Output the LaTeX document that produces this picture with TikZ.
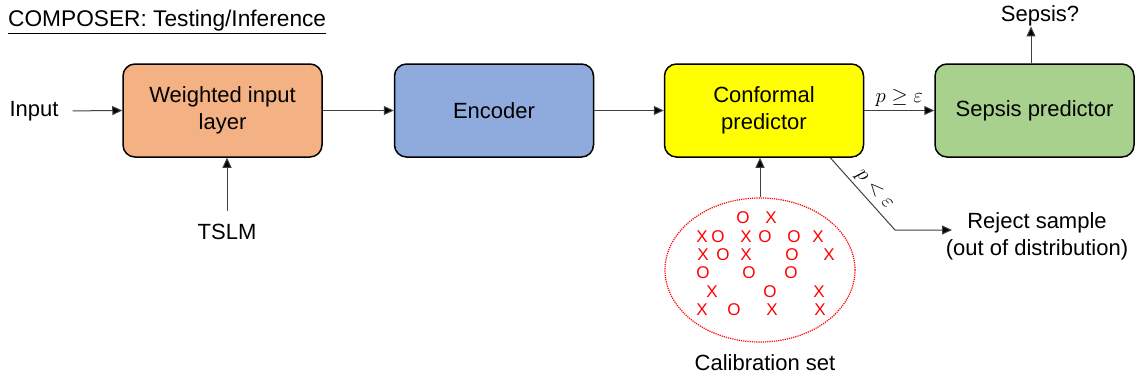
\documentclass[tikz,border=0pt]{standalone}
\usepackage{fontspec}
\setmainfont{Liberation Sans}
\usetikzlibrary{arrows.meta,shapes.geometric}
\definecolor{boxorange}{HTML}{F4B183}
\definecolor{boxblue}{HTML}{8FAADC}
\definecolor{boxyellow}{HTML}{FFFF00}
\definecolor{boxgreen}{HTML}{A9D18E}
\definecolor{linegray}{HTML}{404040}
\definecolor{calred}{HTML}{FF0000}
\tikzset{
  txt/.style={font=\fontsize{22}{27}\selectfont, inner sep=0pt, align=center},
  block/.style={txt, draw=black, line width=1.5pt, rounded corners=12pt,
    minimum width=199pt, minimum height=93pt},
  arr/.style={draw=linegray, line width=1pt, -{Triangle[length=10pt,width=9pt,fill=black]}},
  mk/.style={font=\fontsize{17}{17}\selectfont, text=calred, inner sep=0pt},
  mathlbl/.style={font=\fontsize{20}{20}\selectfont, inner sep=0pt},
}
\begin{document}
\begin{tikzpicture}[x=1pt,y=-1pt]
\useasboundingbox (0,0) rectangle (1142,381);
\node[txt, anchor=west, font=\fontsize{22.7}{27}\selectfont] (title) at (8,22) {\underline{COMPOSER: Testing/Inference}};
\node[block, fill=boxorange] (wil) at (222.5,110.5) {Weighted input\\layer};
\node[block, fill=boxblue] (enc) at (494,110.5) {Encoder};
\node[block, fill=boxyellow] (conf) at (764,110.5) {Conformal\\predictor};
\node[block, fill=boxgreen] (sep) at (1034.5,110.5) {Sepsis predictor};
\node[txt] (input) at (34,111) {Input};
\node[txt] (tslm) at (227,232) {TSLM};
\node[txt] (sepq) at (1040,16) {Sepsis?};
\node[txt] (rej) at (1037,236) {Reject sample\\(out of distribution)};
\node[txt] (calt) at (765,363) {Calibration set};
\node[ellipse, draw=calred, densely dotted, line width=1.2pt,
  minimum width=190pt, minimum height=144pt] (cal) at (760,270) {};
\coordinate (bend) at (895,230);
\coordinate (rejtip) at (952,230);

\draw[arr, shorten <=14pt] (input.east) -- (wil.west);
\draw[arr] (wil.east) -- (enc.west);
\draw[arr] (enc.east) -- (conf.west);
\draw[arr] (conf.east) -- node[above=3pt, mathlbl] (pge) {$p \geq \varepsilon$} (sep.west);
\draw[arr, shorten <=13pt] (tslm.north) -- (tslm.north |- wil.south);
\draw[arr] ([xshift=-3.5pt]sep.north) -- ([xshift=-3.5pt]sep.north |- sepq.south);
\draw[arr] (cal.north) -- (cal.north |- conf.south);
\draw[arr] ([xshift=-34pt]conf.south east) -- node[sloped, above=3pt, pos=0.55, mathlbl] (plt) {$p<\varepsilon$} (bend) -- (rejtip);

\foreach \n/\x/\y/\t in {
  a/743/218/O, b/771/218/X,
  c/702/237/X, d/718/237/O, e/746/237/X, f/765/237/O, g/794/237/O, h/818/237/X,
  i/703/255/X, j/723/255/O, k/746/255/X, l/792/255/O, m/829/255/X,
  n/703/273/O, o/749/273/O, p/791/273/O,
  q/712/292/X, r/770/292/O, s/819/292/X,
  t/702/310/X, u/734/310/O, v/772/310/X, w/820/310/X}
  \node[mk] (mk\n) at (\x,\y) {\t};
\end{tikzpicture}
\end{document}
